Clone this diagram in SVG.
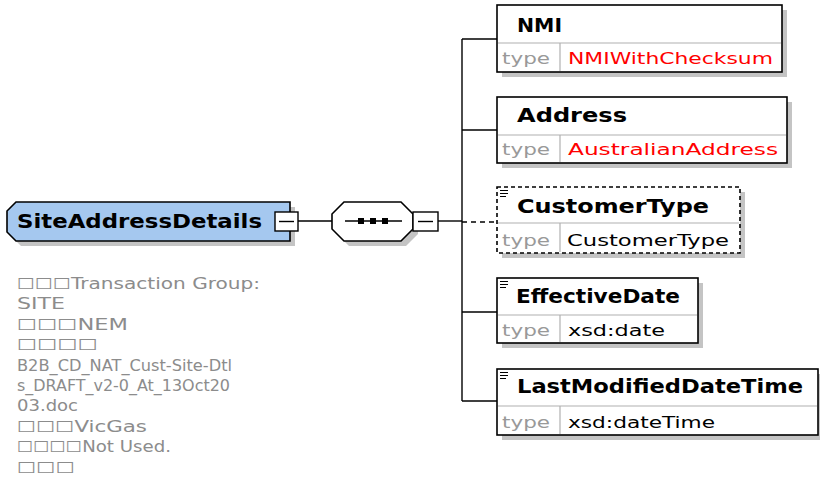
<svg xmlns="http://www.w3.org/2000/svg" width="820" height="480" viewBox="0 0 820 480">
<defs>
<style>
.sh{fill:#c4c4c4;stroke:none}
.bx{fill:#fff;stroke:#000;stroke-width:1.6}
.dbx{fill:#fff;stroke:#000;stroke-width:1.6;stroke-dasharray:4 3}
.div{stroke:#b0b0b0;stroke-width:1.2}
.ln{stroke:#000;stroke-width:1.4;fill:none}
.dln{stroke:#000;stroke-width:1.4;fill:none;stroke-dasharray:5 4}
.hd{font-family:"DejaVu Sans",Verdana,sans-serif;font-weight:bold;font-size:19px;fill:#000}
.ty{font-family:"DejaVu Sans",Verdana,sans-serif;font-size:16px;fill:#999}
.tv{font-family:"DejaVu Sans",Verdana,sans-serif;font-size:16px;fill:#000}
.red{fill:#ff0000}
.cm{font-family:"DejaVu Sans",Verdana,sans-serif;font-size:15px;fill:#8c8c8c}
.ic{stroke:#000;stroke-width:1}
</style>
</defs>
<g id="connectors">
<line class="ln" x1="298" y1="221" x2="332" y2="221"/>
<line class="ln" x1="438" y1="221" x2="462" y2="221"/>
<line class="ln" x1="462" y1="39" x2="462" y2="401"/>
<line class="ln" x1="462" y1="39" x2="497" y2="39"/>
<line class="ln" x1="462" y1="130" x2="497" y2="130"/>
<line class="dln" x1="462" y1="222" x2="497" y2="222"/>
<line class="ln" x1="462" y1="312" x2="497" y2="312"/>
<line class="ln" x1="462" y1="401" x2="497" y2="401"/>
</g>
<g id="SiteAddressDetails">
<polygon class="sh" points="21,207 295,207 295,246 21,246 12,237 12,216"/>
<polygon points="16,202 290,202 290,241 16,241 7,232 7,211" fill="#a5c8ef" stroke="#000" stroke-width="1.6"/>
<text class="hd" x="17" y="228" textLength="245" lengthAdjust="spacingAndGlyphs">SiteAddressDetails</text>
<rect x="275" y="212" width="23" height="19" fill="#fff" stroke="#000" stroke-width="1.4"/>
<line class="ln" x1="279" y1="221.5" x2="294" y2="221.5"/>
</g>
<g id="comment">
<text class="cm" x="17" y="289" textLength="243" lengthAdjust="spacingAndGlyphs">☐☐☐Transaction Group:</text>
<text class="cm" x="17" y="309.4" textLength="48" lengthAdjust="spacingAndGlyphs">SITE</text>
<text class="cm" x="17" y="329.8" textLength="111" lengthAdjust="spacingAndGlyphs">☐☐☐NEM</text>
<text class="cm" x="17" y="350.2" textLength="81" lengthAdjust="spacingAndGlyphs">☐☐☐☐</text>
<text class="cm" x="17" y="370.6" textLength="215" lengthAdjust="spacingAndGlyphs">B2B_CD_NAT_Cust-Site-Dtl</text>
<text class="cm" x="17" y="391" textLength="213" lengthAdjust="spacingAndGlyphs">s_DRAFT_v2-0_At_13Oct20</text>
<text class="cm" x="17" y="411.4" textLength="61" lengthAdjust="spacingAndGlyphs">03.doc</text>
<text class="cm" x="17" y="431.8" textLength="130" lengthAdjust="spacingAndGlyphs">☐☐☐VicGas</text>
<text class="cm" x="17" y="452.2" textLength="154" lengthAdjust="spacingAndGlyphs">☐☐☐☐Not Used.</text>
<text class="cm" x="17" y="472.6" textLength="58" lengthAdjust="spacingAndGlyphs">☐☐☐</text>
</g>
<g id="sequence">
<polygon class="sh" points="349,207 406,207 418,219 418,234 406,246 349,246 337,234 337,219"/>
<polygon points="344,202 401,202 413,214 413,229 401,241 344,241 332,229 332,214" fill="#fff" stroke="#000" stroke-width="1.6"/>
<line class="ln" x1="345" y1="221" x2="402" y2="221"/>
<rect x="358" y="218" width="6" height="6" fill="#000"/>
<rect x="370" y="218" width="6" height="6" fill="#000"/>
<rect x="382" y="218" width="6" height="6" fill="#000"/>
<rect x="413" y="212" width="25" height="19" fill="#fff" stroke="#000" stroke-width="1.4"/>
<line class="ln" x1="418" y1="221.5" x2="433" y2="221.5"/>
</g>
<g id="NMI">
<rect class="sh" x="502" y="10" width="285" height="67"/>
<rect class="bx" x="497" y="5" width="285" height="67"/>
<line class="div" x1="498" y1="43" x2="781" y2="43"/>
<line class="div" x1="560" y1="43" x2="560" y2="71"/>
<text class="hd" x="517" y="32" textLength="45" lengthAdjust="spacingAndGlyphs">NMI</text>
<text class="ty" x="502" y="64" textLength="48" lengthAdjust="spacingAndGlyphs">type</text>
<text class="tv red" x="568" y="64" textLength="205" lengthAdjust="spacingAndGlyphs">NMIWithChecksum</text>
</g>
<g id="Address">
<rect class="sh" x="502" y="102" width="290" height="66"/>
<rect class="bx" x="497" y="97" width="290" height="66"/>
<line class="div" x1="498" y1="135" x2="786" y2="135"/>
<line class="div" x1="560" y1="135" x2="560" y2="162"/>
<text class="hd" x="517" y="122" textLength="110" lengthAdjust="spacingAndGlyphs">Address</text>
<text class="ty" x="502" y="155" textLength="48" lengthAdjust="spacingAndGlyphs">type</text>
<text class="tv red" x="568" y="155" textLength="210" lengthAdjust="spacingAndGlyphs">AustralianAddress</text>
</g>
<g id="CustomerType">
<rect class="sh" x="502" y="192" width="243" height="66"/>
<rect class="dbx" x="497" y="187" width="243" height="66"/>
<line class="div" x1="498" y1="223" x2="739" y2="223"/>
<line class="div" x1="560" y1="223" x2="560" y2="252"/>
<line class="ic" x1="500" y1="190.5" x2="508" y2="190.5"/>
<line class="ic" x1="500" y1="193.5" x2="508" y2="193.5"/>
<line class="ic" x1="500" y1="196.5" x2="506" y2="196.5"/>
<text class="hd" x="517" y="213" textLength="192" lengthAdjust="spacingAndGlyphs">CustomerType</text>
<text class="ty" x="502" y="246" textLength="48" lengthAdjust="spacingAndGlyphs">type</text>
<text class="tv" x="567" y="246" textLength="162" lengthAdjust="spacingAndGlyphs">CustomerType</text>
</g>
<g id="EffectiveDate">
<rect class="sh" x="502" y="283" width="201" height="65"/>
<rect class="bx" x="497" y="278" width="201" height="65"/>
<line class="div" x1="498" y1="315" x2="697" y2="315"/>
<line class="div" x1="560" y1="315" x2="560" y2="342"/>
<line class="ic" x1="500" y1="281.5" x2="508" y2="281.5"/>
<line class="ic" x1="500" y1="284.5" x2="508" y2="284.5"/>
<line class="ic" x1="500" y1="287.5" x2="506" y2="287.5"/>
<text class="hd" x="516" y="303" textLength="164" lengthAdjust="spacingAndGlyphs">EffectiveDate</text>
<text class="ty" x="502" y="336" textLength="48" lengthAdjust="spacingAndGlyphs">type</text>
<text class="tv" x="568" y="336" textLength="97" lengthAdjust="spacingAndGlyphs">xsd:date</text>
</g>
<g id="LastModifiedDateTime">
<rect class="sh" x="502" y="374" width="321" height="66"/>
<rect class="bx" x="497" y="369" width="321" height="66"/>
<line class="div" x1="498" y1="406" x2="817" y2="406"/>
<line class="div" x1="560" y1="406" x2="560" y2="434"/>
<line class="ic" x1="500" y1="372.5" x2="508" y2="372.5"/>
<line class="ic" x1="500" y1="375.5" x2="508" y2="375.5"/>
<line class="ic" x1="500" y1="378.5" x2="506" y2="378.5"/>
<text class="hd" x="517" y="393" textLength="286" lengthAdjust="spacingAndGlyphs">LastModifiedDateTime</text>
<text class="ty" x="502" y="428" textLength="48" lengthAdjust="spacingAndGlyphs">type</text>
<text class="tv" x="568" y="428" textLength="147" lengthAdjust="spacingAndGlyphs">xsd:dateTime</text>
</g>
</svg>
